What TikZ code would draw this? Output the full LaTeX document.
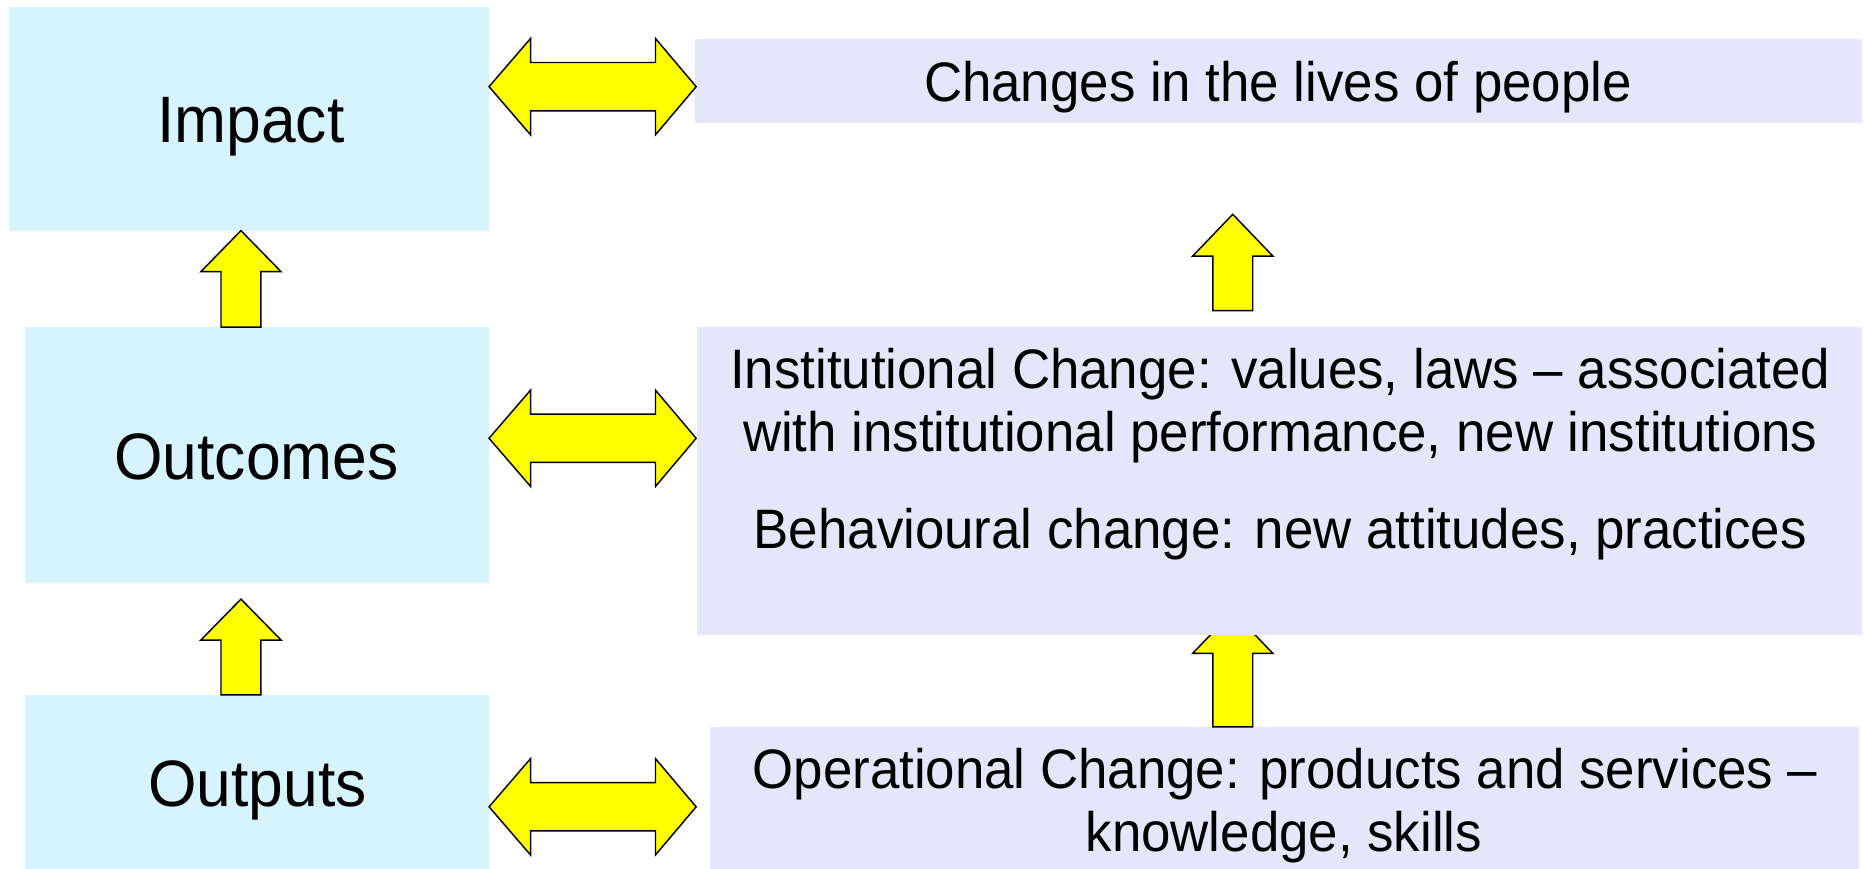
\documentclass[tikz,border=0pt]{standalone}
\usepackage{fontspec}
\setmainfont{Liberation Sans}[FakeStretch=0.95]
\usetikzlibrary{fit}
\definecolor{leftblue}{RGB}{214,243,254}
\definecolor{rightlav}{RGB}{230,230,251}
\definecolor{arrowyellow}{RGB}{255,255,0}
% #1 centre x, #2 tip y, #3 head base y, #4 tail y
\newcommand\UpArr[4]{\draw[blockarr] (#1,#2) -- ({#1+33.7},#3) -- ({#1+16.8},#3) -- ({#1+16.8},#4) -- ({#1-16.8},#4) -- ({#1-16.8},#3) -- ({#1-33.7},#3) -- cycle;}
% #1 centre y
\newcommand\DblArr[1]{\draw[blockarr] (411.4,#1) -- (446.3,{#1-40.5}) -- (446.3,{#1-20.3}) -- (551.4,{#1-20.3}) -- (551.4,{#1-40.5}) -- (585.6,#1) -- (551.4,{#1+40.5}) -- (551.4,{#1+20.3}) -- (446.3,{#1+20.3}) -- (446.3,{#1+40.5}) -- cycle;}
\begin{document}
\begin{tikzpicture}[x=0.01cm, y=-0.01cm,
  box/.style={inner sep=0pt, outer sep=0pt, draw=none},
  lbox/.style={box, fill=leftblue},
  rbox/.style={box, fill=rightlav},
  blockarr/.style={draw=black, fill=arrowyellow, line width=0.35pt, line join=miter},
  big/.style={font=\fontsize{15.7}{18}\selectfont, inner sep=0pt, anchor=base},
  small/.style={font=\fontsize{13.3}{15.2}\selectfont, inner sep=0pt, anchor=base}]
\fill[white] (0,0) rectangle (1568,731);
\useasboundingbox (0,0) rectangle (1568,731);
% left boxes
\node[lbox, fit={(7.5,5.6) (411.3,194)}] (impact) {};
\node[lbox, fit={(21,275.1) (411.3,490.1)}] (outcomes) {};
\node[lbox, fit={(21,584.6) (411.3,731)}] (outputs) {};
% right boxes
\node[rbox, fit={(584.6,32.8) (1566,103.2)}] (changes) {};
\node[rbox, fit={(597.2,611.5) (1563.5,731)}] (operational) {};
% arrow hidden partly behind the institutional box
\UpArr{1037}{514.6}{549.6}{611.5}
\node[rbox, fit={(586,275.1) (1566,534.2)}] (institutional) {};
% up arrows
\UpArr{202.7}{194}{228.5}{275.1}
\UpArr{202.7}{504}{538.4}{584.6}
\UpArr{1037}{180.3}{215.4}{261.3}
% double arrows
\DblArr{72.9}
\DblArr{368.7}
\DblArr{678.7}
% texts
\node[big] (impactT) at (211,120) {Impact};
\node[big] (outcomesT) at (215.7,403) {Outcomes};
\node[big] (outputsT) at (216.5,678.6) {Outputs};
\node[small] (changesT) at (1075,85.5) {Changes in the lives of people};
\node[small] (inst1) at (1077,327) {Institutional Change: values, laws – associated};
\node[small] (inst2) at (1077,380) {with institutional performance, new institutions};
\node[small] (behav) at (1077,461.3) {Behavioural change: new attitudes, practices};
\node[small] (op1) at (1081,663) {Operational Change: products and services –};
\node[small] (op2) at (1080,716.4) {knowledge, skills};
\end{tikzpicture}
\end{document}
